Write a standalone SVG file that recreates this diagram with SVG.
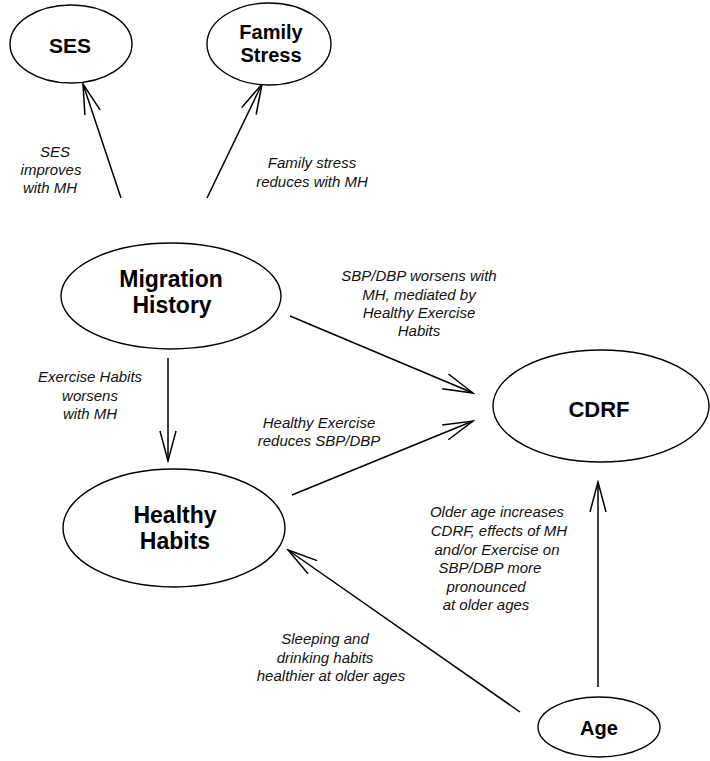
<svg xmlns="http://www.w3.org/2000/svg" width="710" height="761" viewBox="0 0 710 761">
<style>
.node ellipse{fill:#fff;stroke:#000;stroke-width:1.4}
.nt{font-family:"Liberation Sans",Arial,sans-serif;font-weight:bold;text-anchor:middle;fill:#000}
.lbl{font-family:"Liberation Sans",Arial,sans-serif;font-style:italic;font-size:15px;text-anchor:middle;fill:#111}
.edge{stroke:#000;stroke-width:1.5;fill:none;marker-end:url(#arr)}
</style>
<defs>
<marker id="arr" markerUnits="userSpaceOnUse" viewBox="-32 -10 34 20" refX="0" refY="0" markerWidth="34" markerHeight="20" orient="auto">
<path d="M-30,-8 L0,0 L-30,8" fill="none" stroke="#000" stroke-width="1.5"/>
</marker>
</defs>
<rect width="710" height="761" fill="#fff"/>
<g id="connectors">
<line class="edge" x1="121" y1="198" x2="83" y2="84"/>
<line class="edge" x1="207" y1="198" x2="262" y2="84"/>
<line class="edge" x1="290" y1="316" x2="473" y2="393"/>
<line class="edge" x1="168" y1="358" x2="168" y2="461"/>
<line class="edge" x1="292" y1="495" x2="473" y2="421"/>
<line class="edge" x1="520" y1="712" x2="288" y2="550"/>
<line class="edge" x1="598" y1="687" x2="598" y2="482"/>
</g>
<g id="ses" class="node">
<ellipse cx="71" cy="44" rx="61" ry="39"/>
<text class="nt" x="70" y="53" font-size="21">SES</text>
</g>
<g id="family-stress" class="node">
<ellipse cx="269" cy="44" rx="62" ry="41"/>
<text class="nt" x="271" y="39" font-size="20">Family</text>
<text class="nt" x="271" y="62" font-size="20">Stress</text>
</g>
<g id="migration-history" class="node">
<ellipse cx="171" cy="296" rx="110" ry="53"/>
<text class="nt" x="171" y="287" font-size="23">Migration</text>
<text class="nt" x="172" y="313" font-size="23">History</text>
</g>
<g id="cdrf" class="node">
<ellipse cx="601" cy="406" rx="108" ry="56"/>
<text class="nt" x="599" y="417" font-size="22">CDRF</text>
</g>
<g id="healthy-habits" class="node">
<ellipse cx="174" cy="528" rx="111" ry="59"/>
<text class="nt" x="175" y="523" font-size="23">Healthy</text>
<text class="nt" x="175" y="549" font-size="23">Habits</text>
</g>
<g id="age" class="node">
<ellipse cx="599" cy="727" rx="61" ry="30"/>
<text class="nt" x="599" y="735" font-size="20">Age</text>
</g>
<g id="labels">
<text class="lbl"><tspan x="55" y="157">SES</tspan><tspan x="51" y="175">improves</tspan><tspan x="50" y="193">with MH</tspan></text>
<text class="lbl"><tspan x="312" y="168">Family stress</tspan><tspan x="312" y="187">reduces with MH</tspan></text>
<text class="lbl"><tspan x="419" y="281">SBP/DBP worsens with</tspan><tspan x="419" y="300">MH, mediated by</tspan><tspan x="419" y="318">Healthy Exercise</tspan><tspan x="419" y="336">Habits</tspan></text>
<text class="lbl"><tspan x="90" y="382">Exercise Habits</tspan><tspan x="90" y="401">worsens</tspan><tspan x="90" y="419">with MH</tspan></text>
<text class="lbl"><tspan x="319" y="428">Healthy Exercise</tspan><tspan x="319" y="446">reduces SBP/DBP</tspan></text>
<text class="lbl"><tspan x="497" y="517">Older age increases</tspan><tspan x="499" y="536">CDRF, effects of MH</tspan><tspan x="497" y="555">and/or Exercise on</tspan><tspan x="490" y="573">SBP/DBP more</tspan><tspan x="486" y="592">pronounced</tspan><tspan x="486" y="610">at older ages</tspan></text>
<text class="lbl"><tspan x="325" y="644">Sleeping and</tspan><tspan x="325" y="663">drinking habits</tspan><tspan x="331" y="681">healthier at older ages</tspan></text>
</g>
</svg>
